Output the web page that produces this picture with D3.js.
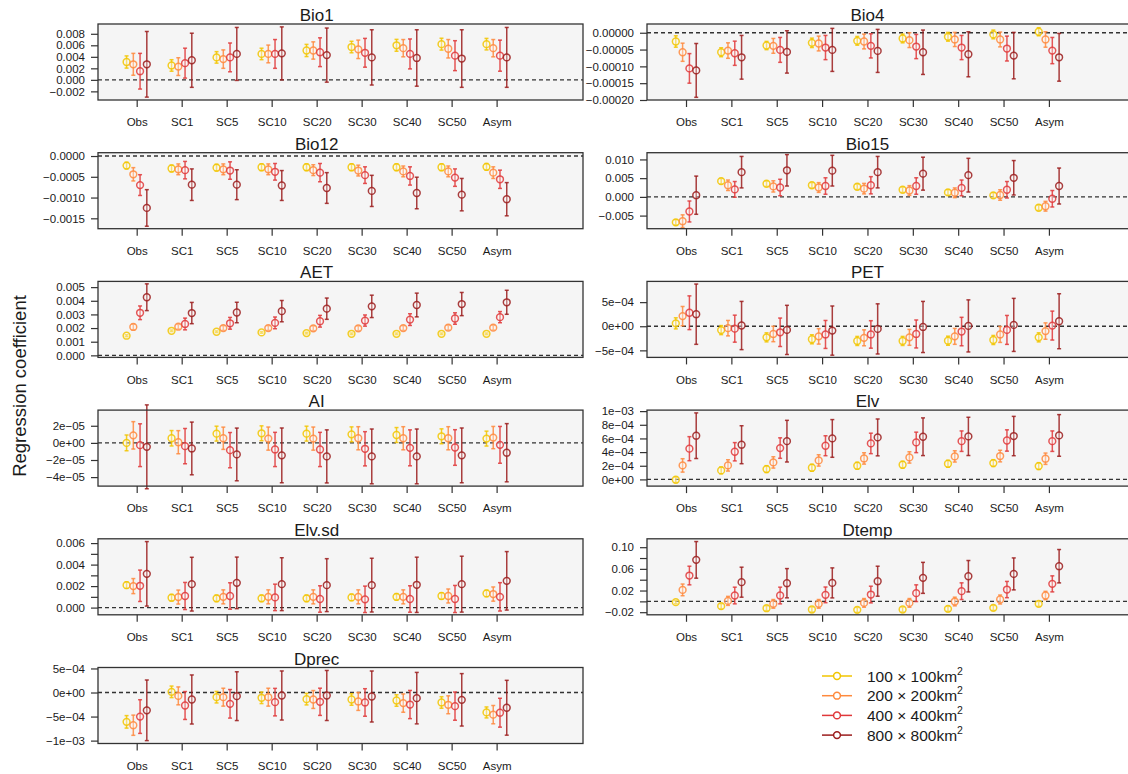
<!DOCTYPE html>
<html>
<head>
<meta charset="utf-8">
<script src="https://cdn.jsdelivr.net/npm/d3@7"></script>
<style>
  body { margin: 0; background: #fff; }
  svg text { font-family: "Liberation Sans", Arial, sans-serif; fill: #1a1a1a; }
</style>
</head>
<body>
<div id="chart"></div>
<script>
// categories and series
const groups = ["Obs", "SC1", "SC5", "SC10", "SC20", "SC30", "SC40", "SC50", "Asym"];
const sizes = ["100 × 100km", "200 × 200km", "400 × 400km", "800 × 800km"];
const colors = ["#f2c500", "#ff8a3d", "#e0383a", "#9b1c1c"];

// each table: rows = 100, 200, 400, 800 km series; columns = groups
const bio1Mean = [
  [0.0031, 0.0025, 0.0039, 0.0045, 0.0051, 0.0057, 0.0060, 0.0062, 0.0062],
  [0.0027, 0.0023, 0.0036, 0.0045, 0.0051, 0.0053, 0.0055, 0.0054, 0.0055],
  [0.0015, 0.0029, 0.0039, 0.0045, 0.0048, 0.0047, 0.0045, 0.0042, 0.0042],
  [0.0027, 0.0034, 0.0045, 0.0046, 0.0043, 0.0039, 0.0038, 0.0037, 0.0039]
];
const bio1Err = [
  [0.00106, 0.0010, 0.0010, 0.0010, 0.00106, 0.0010, 0.00103, 0.00103, 0.0010],
  [0.0019, 0.00154, 0.0016, 0.00154, 0.0015, 0.0016, 0.0015, 0.0016, 0.0015],
  [0.0031, 0.0026, 0.0025, 0.0025, 0.0025, 0.0025, 0.0026, 0.0026, 0.0027],
  [0.0057, 0.0047, 0.0046, 0.0046, 0.0047, 0.0048, 0.0049, 0.0050, 0.0052]
];

const bio4Mean = [
  [-2.6e-5, -5.8e-5, -3.8e-5, -3.0e-5, -2.4e-5, -1.7e-5, -1.2e-5, -0.5e-5, 0.3e-5],
  [-5.8e-5, -5.3e-5, -3.9e-5, -3.2e-5, -2.6e-5, -2.2e-5, -2.0e-5, -2.0e-5, -2.0e-5],
  [-10.6e-5, -6.1e-5, -5.1e-5, -4.4e-5, -3.9e-5, -4.1e-5, -4.4e-5, -4.7e-5, -5.3e-5],
  [-11.2e-5, -7.3e-5, -5.7e-5, -5.1e-5, -5.4e-5, -5.8e-5, -6.4e-5, -6.8e-5, -7.3e-5]
];
const bio4Err = [
  [1.7e-5, 1.33e-5, 1.23e-5, 1.4e-5, 1.3e-5, 1.3e-5, 1.3e-5, 1.3e-5, 1.2e-5],
  [2.7e-5, 2.3e-5, 2.2e-5, 2.2e-5, 2.2e-5, 2.2e-5, 2.1e-5, 2.2e-5, 2.3e-5],
  [4.4e-5, 3.6e-5, 3.7e-5, 3.6e-5, 3.6e-5, 3.6e-5, 3.6e-5, 3.7e-5, 3.9e-5],
  [8.0e-5, 6.5e-5, 6.3e-5, 6.4e-5, 6.4e-5, 6.6e-5, 6.7e-5, 6.9e-5, 7.1e-5]
];

const bio12Mean = [
  [-2.3e-4, -3.0e-4, -2.8e-4, -2.7e-4, -2.7e-4, -2.7e-4, -2.7e-4, -2.7e-4, -2.6e-4],
  [-4.4e-4, -3.2e-4, -3.2e-4, -3.2e-4, -3.4e-4, -3.5e-4, -3.7e-4, -3.7e-4, -4.0e-4],
  [-7.0e-4, -3.4e-4, -3.5e-4, -3.8e-4, -4.0e-4, -4.6e-4, -4.8e-4, -5.2e-4, -5.6e-4],
  [-12.5e-4, -6.9e-4, -6.9e-4, -7.1e-4, -7.7e-4, -8.4e-4, -8.9e-4, -9.3e-4, -10.4e-4]
];
const bio12Err = [
  [0.8e-4, 0.8e-4, 0.8e-4, 0.8e-4, 0.8e-4, 0.8e-4, 0.8e-4, 0.8e-4, 0.8e-4],
  [1.6e-4, 1.3e-4, 1.3e-4, 1.3e-4, 1.3e-4, 1.3e-4, 1.3e-4, 1.3e-4, 1.4e-4],
  [2.5e-4, 2.1e-4, 2.1e-4, 2.0e-4, 2.2e-4, 2.0e-4, 2.2e-4, 2.1e-4, 2.2e-4],
  [4.4e-4, 3.8e-4, 3.6e-4, 3.6e-4, 3.7e-4, 3.75e-4, 3.8e-4, 3.9e-4, 4.0e-4]
];

const bio15Mean = [
  [-0.0068, 0.0042, 0.0035, 0.0031, 0.0027, 0.0019, 0.0012, 0.0004, -0.0029],
  [-0.0065, 0.0031, 0.0028, 0.0025, 0.0022, 0.0017, 0.0011, 0.0005, -0.0025],
  [-0.0039, 0.0020, 0.0025, 0.0029, 0.0031, 0.0029, 0.0024, 0.0019, -0.0005],
  [0.00045, 0.0066, 0.0071, 0.0070, 0.0066, 0.0062, 0.0058, 0.0051, 0.0029]
];
const bio15Err = [
  [0.0007, 0.0007, 0.0007, 0.0007, 0.0007, 0.0007, 0.0007, 0.0007, 0.0007],
  [0.0017, 0.0014, 0.0015, 0.0013, 0.0014, 0.0013, 0.0013, 0.0014, 0.0013],
  [0.0028, 0.0021, 0.0022, 0.0022, 0.0023, 0.0022, 0.0021, 0.0022, 0.0022],
  [0.0051, 0.0042, 0.0042, 0.0041, 0.0042, 0.0044, 0.0045, 0.0046, 0.0048]
];

const aetMean = [
  [0.00144, 0.00180, 0.00173, 0.00168, 0.00163, 0.00158, 0.00158, 0.00158, 0.00158],
  [0.00208, 0.00210, 0.00200, 0.00200, 0.00198, 0.00198, 0.00200, 0.00203, 0.00203],
  [0.00312, 0.00230, 0.00235, 0.00238, 0.00250, 0.00255, 0.00262, 0.00270, 0.00280],
  [0.00426, 0.00310, 0.00314, 0.00324, 0.00342, 0.00359, 0.00369, 0.00376, 0.00389]
];
const aetErr = [
  [0.00007, 0.00006, 0.00006, 0.00006, 0.00006, 0.00006, 0.00006, 0.00006, 0.00006],
  [0.00020, 0.00017, 0.00017, 0.00017, 0.00017, 0.00017, 0.00017, 0.00017, 0.00017],
  [0.00050, 0.00043, 0.00043, 0.00043, 0.00043, 0.00041, 0.00043, 0.00042, 0.00041],
  [0.00098, 0.00078, 0.00075, 0.00078, 0.00078, 0.00082, 0.00087, 0.00085, 0.00088]
];

const petMean = [
  [0.6e-4, -0.8e-4, -2.3e-4, -2.7e-4, -3.05e-4, -3.05e-4, -3.0e-4, -2.85e-4, -2.3e-4],
  [2.1e-4, -0.4e-4, -1.6e-4, -2.1e-4, -2.4e-4, -2.3e-4, -2.1e-4, -1.7e-4, -1.0e-4],
  [2.8e-4, -0.5e-4, -1.25e-4, -1.7e-4, -1.7e-4, -1.6e-4, -1.1e-4, -0.76e-4, 0.14e-4],
  [2.5e-4, 0.15e-4, -0.76e-4, -0.9e-4, -0.55e-4, -0.15e-4, 0.07e-4, 0.28e-4, 1.04e-4]
];
const petErr = [
  [1.15e-4, 0.94e-4, 0.94e-4, 0.94e-4, 0.94e-4, 0.94e-4, 0.94e-4, 0.94e-4, 0.94e-4],
  [2.0e-4, 1.6e-4, 1.6e-4, 1.6e-4, 1.65e-4, 1.65e-4, 1.65e-4, 1.65e-4, 1.7e-4],
  [3.5e-4, 2.8e-4, 2.95e-4, 2.9e-4, 2.85e-4, 2.9e-4, 2.95e-4, 3.0e-4, 3.0e-4],
  [6.25e-4, 5.0e-4, 5.1e-4, 5.1e-4, 5.2e-4, 5.3e-4, 5.4e-4, 5.5e-4, 5.7e-4]
];

const aiMean = [
  [0.0e-5, 0.54e-5, 1.08e-5, 1.12e-5, 1.08e-5, 1.0e-5, 0.92e-5, 0.77e-5, 0.5e-5],
  [0.88e-5, 0.08e-5, 0.54e-5, 0.5e-5, 0.5e-5, 0.54e-5, 0.54e-5, 0.54e-5, 0.62e-5],
  [-0.27e-5, -0.38e-5, -0.85e-5, -0.77e-5, -0.77e-5, -0.69e-5, -0.58e-5, -0.54e-5, -0.23e-5],
  [-0.46e-5, -0.65e-5, -1.35e-5, -1.46e-5, -1.58e-5, -1.58e-5, -1.58e-5, -1.46e-5, -1.15e-5]
];
const aiErr = [
  [0.92e-5, 0.9e-5, 0.87e-5, 0.87e-5, 0.87e-5, 0.87e-5, 0.87e-5, 0.87e-5, 0.87e-5],
  [1.6e-5, 1.35e-5, 1.3e-5, 1.35e-5, 1.35e-5, 1.35e-5, 1.35e-5, 1.35e-5, 1.3e-5],
  [2.5e-5, 2.06e-5, 2.06e-5, 2.0e-5, 2.0e-5, 2.0e-5, 2.1e-5, 2.08e-5, 2.15e-5],
  [4.9e-5, 3.08e-5, 3.08e-5, 3.2e-5, 3.1e-5, 3.2e-5, 3.2e-5, 3.2e-5, 3.4e-5]
];

const elvMean = [
  [-0.05e-4, 1.32e-4, 1.51e-4, 1.71e-4, 2.0e-4, 2.15e-4, 2.29e-4, 2.39e-4, 1.95e-4],
  [2.05e-4, 2.05e-4, 2.49e-4, 2.78e-4, 3.07e-4, 3.22e-4, 3.37e-4, 3.42e-4, 3.03e-4],
  [4.5e-4, 4.05e-4, 4.59e-4, 4.93e-4, 5.27e-4, 5.42e-4, 5.6e-4, 5.7e-4, 5.6e-4],
  [6.4e-4, 5.08e-4, 5.6e-4, 6.0e-4, 6.15e-4, 6.25e-4, 6.3e-4, 6.35e-4, 6.44e-4]
];
const elvErr = [
  [0.4e-4, 0.5e-4, 0.5e-4, 0.5e-4, 0.5e-4, 0.5e-4, 0.5e-4, 0.5e-4, 0.5e-4],
  [0.98e-4, 0.83e-4, 0.83e-4, 0.83e-4, 0.83e-4, 0.83e-4, 0.83e-4, 0.85e-4, 0.83e-4],
  [1.76e-4, 1.34e-4, 1.5e-4, 1.46e-4, 1.5e-4, 1.5e-4, 1.5e-4, 1.56e-4, 1.5e-4],
  [3.34e-4, 2.78e-4, 3.05e-4, 2.76e-4, 2.7e-4, 2.76e-4, 2.8e-4, 2.88e-4, 3.05e-4]
];

const elvsdMean = [
  [0.00209, 0.00092, 0.00086, 0.00086, 0.00086, 0.00095, 0.00100, 0.00108, 0.00132],
  [0.00200, 0.00098, 0.00100, 0.00100, 0.00100, 0.00100, 0.00100, 0.00108, 0.00126],
  [0.00203, 0.00108, 0.00108, 0.00095, 0.00080, 0.00077, 0.00080, 0.00080, 0.00100],
  [0.00314, 0.00218, 0.00230, 0.00218, 0.00209, 0.00209, 0.00212, 0.00218, 0.00249]
];
const elvsdErr = [
  [0.0003, 0.0003, 0.0003, 0.0003, 0.0003, 0.0003, 0.0003, 0.0003, 0.0003],
  [0.0007, 0.00065, 0.00065, 0.00065, 0.00065, 0.00065, 0.00065, 0.00065, 0.00066],
  [0.00146, 0.00126, 0.00123, 0.00123, 0.00123, 0.00123, 0.00123, 0.00126, 0.00132],
  [0.0030, 0.0025, 0.0024, 0.00246, 0.00246, 0.0025, 0.00257, 0.0026, 0.00272]
];

const dtempMean = [
  [-0.0015, -0.0089, -0.0126, -0.0150, -0.0157, -0.0150, -0.0138, -0.0120, -0.0046],
  [0.0212, 0.0009, -0.0046, -0.0046, -0.0028, -0.0028, -0.0003, 0.0034, 0.0108],
  [0.0477, 0.0108, 0.0108, 0.0120, 0.0126, 0.0151, 0.0188, 0.0218, 0.0323],
  [0.0766, 0.0354, 0.0335, 0.0341, 0.0372, 0.0434, 0.0464, 0.0507, 0.0649]
];
const dtempErr = [
  [0.0030, 0.0046, 0.0045, 0.0045, 0.0045, 0.0045, 0.0045, 0.0045, 0.0045],
  [0.0108, 0.0083, 0.0080, 0.0080, 0.0080, 0.0080, 0.0080, 0.0083, 0.0077],
  [0.0172, 0.0154, 0.0154, 0.0145, 0.0154, 0.0154, 0.0154, 0.0150, 0.0148],
  [0.0338, 0.0277, 0.0270, 0.0277, 0.0277, 0.0286, 0.0290, 0.0295, 0.0308]
];

const dprecMean = [
  [-6.1e-4, 0.14e-4, -0.97e-4, -1.1e-4, -1.38e-4, -1.45e-4, -1.66e-4, -2.07e-4, -4.14e-4],
  [-6.8e-4, -0.7e-4, -0.97e-4, -0.97e-4, -1.45e-4, -1.86e-4, -2.2e-4, -2.55e-4, -4.6e-4],
  [-5.0e-4, -2.7e-4, -2.35e-4, -2.0e-4, -1.93e-4, -2.07e-4, -2.5e-4, -2.83e-4, -4.2e-4],
  [-3.7e-4, -1.45e-4, -0.76e-4, -0.62e-4, -0.62e-4, -0.83e-4, -1.17e-4, -1.52e-4, -3.17e-4]
];
const dprecErr = [
  [1.3e-4, 1.2e-4, 1.2e-4, 1.2e-4, 1.2e-4, 1.2e-4, 1.2e-4, 1.2e-4, 1.14e-4],
  [2.1e-4, 1.86e-4, 1.86e-4, 1.86e-4, 1.86e-4, 1.86e-4, 1.9e-4, 1.86e-4, 1.9e-4],
  [3.5e-4, 2.9e-4, 2.97e-4, 2.86e-4, 2.83e-4, 2.86e-4, 2.93e-4, 2.93e-4, 3.0e-4],
  [6.3e-4, 5.1e-4, 5.07e-4, 5.1e-4, 5.2e-4, 5.3e-4, 5.35e-4, 5.45e-4, 5.7e-4]
];

// y tick values and their printed labels ("" = tick without label)
const bio1Ticks = [-0.002, 0, 0.002, 0.004, 0.006, 0.008];
const bio1Labels = ["−0.002", "0.000", "0.002", "0.004", "0.006", "0.008"];
const bio4Ticks = [-0.0002, -0.00015, -0.0001, -0.00005, 0];
const bio4Labels = ["−0.00020", "−0.00015", "−0.00010", "−0.00005", "0.00000"];
const bio12Ticks = [-0.0015, -0.001, -0.0005, 0];
const bio12Labels = ["−0.0015", "−0.0010", "−0.0005", "0.0000"];
const bio15Ticks = [-0.005, 0, 0.005, 0.01];
const bio15Labels = ["−0.005", "0.000", "0.005", "0.010"];
const aetTicks = [0, 0.001, 0.002, 0.003, 0.004, 0.005];
const aetLabels = ["0.000", "0.001", "0.002", "0.003", "0.004", "0.005"];
const petTicks = [-5e-4, 0, 5e-4];
const petLabels = ["−5e−04", "0e+00", "5e−04"];
const aiTicks = [-4e-5, -2e-5, 0, 2e-5];
const aiLabels = ["−4e−05", "−2e−05", "0e+00", "2e−05"];
const elvTicks = [0, 2e-4, 4e-4, 6e-4, 8e-4, 1e-3];
const elvLabels = ["0e+00", "2e−04", "4e−04", "6e−04", "8e−04", "1e−03"];
const elvsdTicks = [0, 0.001, 0.002, 0.003, 0.004, 0.005, 0.006];
const elvsdLabels = ["0.000", "", "0.002", "", "0.004", "", "0.006"];
const dtempTicks = [-0.02, 0, 0.02, 0.04, 0.06, 0.08, 0.10];
const dtempLabels = ["−0.02", "", "0.02", "", "0.06", "", "0.10"];
const dprecTicks = [-1e-3, -5e-4, 0, 5e-4];
const dprecLabels = ["−1e−03", "−5e−04", "0e+00", "5e−04"];

// panel setup: grid cell + y range of the plot box
const panels = [
  { title: "Bio1", col: 0, row: 0, mean: bio1Mean, err: bio1Err, ylim: [-0.0035, 0.0097], ticks: bio1Ticks, labels: bio1Labels },
  { title: "Bio4", col: 1, row: 0, mean: bio4Mean, err: bio4Err, ylim: [-0.0002, 0.000026], ticks: bio4Ticks, labels: bio4Labels },
  { title: "Bio12", col: 0, row: 1, mean: bio12Mean, err: bio12Err, ylim: [-0.00175, 0.00008], ticks: bio12Ticks, labels: bio12Labels },
  { title: "Bio15", col: 1, row: 1, mean: bio15Mean, err: bio15Err, ylim: [-0.0085, 0.0118], ticks: bio15Ticks, labels: bio15Labels },
  { title: "AET", col: 0, row: 2, mean: aetMean, err: aetErr, ylim: [-0.00015, 0.00542], ticks: aetTicks, labels: aetLabels },
  { title: "PET", col: 1, row: 2, mean: petMean, err: petErr, ylim: [-6.46e-4, 9.3e-4], ticks: petTicks, labels: petLabels },
  { title: "AI", col: 0, row: 3, mean: aiMean, err: aiErr, ylim: [-5.05e-5, 3.83e-5], ticks: aiTicks, labels: aiLabels },
  { title: "Elv", col: 1, row: 3, mean: elvMean, err: elvErr, ylim: [-0.98e-4, 1.015e-3], ticks: elvTicks, labels: elvLabels },
  { title: "Elv.sd", col: 0, row: 4, mean: elvsdMean, err: elvsdErr, ylim: [-0.00067, 0.0064], ticks: elvsdTicks, labels: elvsdLabels },
  { title: "Dtemp", col: 1, row: 4, mean: dtempMean, err: dtempErr, ylim: [-0.0248, 0.1155], ticks: dtempTicks, labels: dtempLabels },
  { title: "Dprec", col: 0, row: 5, mean: dprecMean, err: dprecErr, ylim: [-1.06e-3, 5.2e-4], ticks: dprecTicks, labels: dprecLabels }
];

const width = 1128, height = 774;
const colRange = [[98, 583], [647, 1136]];
const rowTop = r => 24 + r * 128.7;
const boxH = 76;
const offsets = [-0.225, -0.075, 0.075, 0.225];

const svg = d3.select("#chart").append("svg")
  .attr("width", width)
  .attr("height", height);

panels.forEach(p => {
  const top = rowTop(p.row);
  const x = d3.scaleLinear().domain([0.14, 10.92]).range(colRange[p.col]);
  const y = d3.scaleLinear().domain(p.ylim).range([top + boxH, top]);
  const g = svg.append("g").attr("class", "panel");
  const [x0, x1] = x.range();

  // plot background
  g.append("rect")
    .attr("x", x0).attr("y", top)
    .attr("width", x1 - x0).attr("height", boxH)
    .attr("fill", "#f5f5f5");

  // zero reference
  g.append("line")
    .attr("x1", x0).attr("x2", x1)
    .attr("y1", y(0)).attr("y2", y(0))
    .attr("stroke", "#333").attr("stroke-width", 1.3)
    .attr("stroke-dasharray", "4,3");

  // error bars + points
  p.mean.forEach((vals, s) => {
    const sg = g.append("g")
      .attr("stroke", colors[s])
      .attr("stroke-opacity", 0.85)
      .attr("stroke-width", 1.5);
    const pts = vals.map((m, i) => ({ m, e: p.err[s][i], cx: x(i + 1 + offsets[s]) }));

    sg.selectAll(".bar").data(pts).enter().append("line")
      .attr("x1", d => d.cx).attr("x2", d => d.cx)
      .attr("y1", d => y(d.m - d.e)).attr("y2", d => y(d.m + d.e));
    sg.selectAll(".capHi").data(pts).enter().append("line")
      .attr("x1", d => d.cx - 2).attr("x2", d => d.cx + 2)
      .attr("y1", d => y(d.m + d.e)).attr("y2", d => y(d.m + d.e));
    sg.selectAll(".capLo").data(pts).enter().append("line")
      .attr("x1", d => d.cx - 2).attr("x2", d => d.cx + 2)
      .attr("y1", d => y(d.m - d.e)).attr("y2", d => y(d.m - d.e));
    sg.selectAll("circle").data(pts).enter().append("circle")
      .attr("cx", d => d.cx).attr("cy", d => y(d.m))
      .attr("r", 3.4)
      .attr("fill", "#fff").attr("fill-opacity", 0.35);
  });

  // box border
  g.append("rect")
    .attr("x", x0).attr("y", top)
    .attr("width", x1 - x0).attr("height", boxH)
    .attr("fill", "none").attr("stroke", "#333").attr("stroke-width", 1.3);

  // axes
  const yAxis = g.append("g")
    .attr("transform", `translate(${x0},0)`)
    .call(d3.axisLeft(y).tickValues(p.ticks)
      .tickFormat((d, i) => p.labels[i]).tickSize(7).tickPadding(6));
  const xAxis = g.append("g")
    .attr("transform", `translate(0,${top + boxH})`)
    .call(d3.axisBottom(x).tickValues(d3.range(1, 10))
      .tickFormat((d, i) => groups[i]).tickSize(7).tickPadding(11));
  [yAxis, xAxis].forEach(a => {
    a.select(".domain").remove();
    a.selectAll(".tick line").attr("stroke", "#333").attr("stroke-width", 1.2);
    a.selectAll("text").attr("font-size", "11.5px").attr("fill", "#1a1a1a");
  });

  // title
  g.append("text")
    .attr("x", x(5)).attr("y", top - 3)
    .attr("text-anchor", "middle")
    .attr("font-size", "17px")
    .text(p.title);
});

// shared y label
svg.append("text")
  .attr("transform", "translate(19,386) rotate(-90)")
  .attr("text-anchor", "middle")
  .attr("dominant-baseline", "central")
  .attr("font-size", "18.5px")
  .text("Regression coefficient");

// legend
const legend = svg.append("g").attr("class", "legend");
const legendY = i => 676 + i * 19.7;
sizes.forEach((label, i) => {
  const row = legend.append("g").attr("stroke", colors[i]).attr("stroke-width", 1.5);
  row.append("line")
    .attr("x1", 822).attr("x2", 852)
    .attr("y1", legendY(i)).attr("y2", legendY(i));
  row.append("circle")
    .attr("cx", 837).attr("cy", legendY(i)).attr("r", 3.4)
    .attr("fill", "#fff");
  const t = legend.append("text")
    .attr("x", 867).attr("y", legendY(i) + 5.5)
    .attr("font-size", "15.5px")
    .text(label);
  t.append("tspan")
    .attr("dy", -7).attr("font-size", "10.5px")
    .text("2");
});
</script>
</body>
</html>
